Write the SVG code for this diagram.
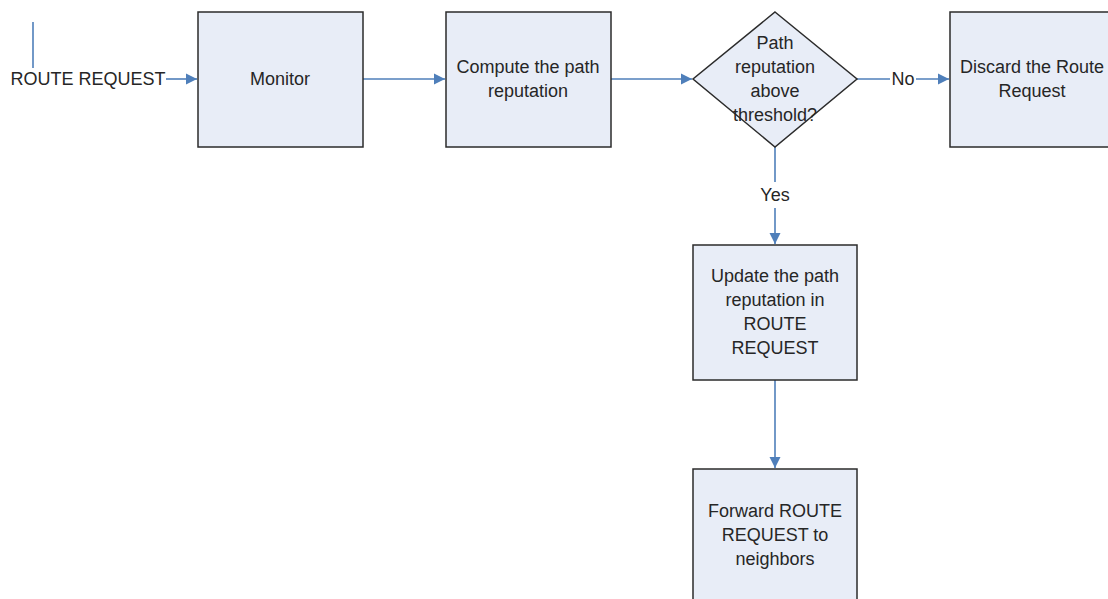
<svg xmlns="http://www.w3.org/2000/svg" width="1108" height="599" viewBox="0 0 1108 599">
<style>
.box{fill:#e8edf7;stroke:#2b2b2b;stroke-width:1.5}
.t{font-family:"Liberation Sans",Arial,sans-serif;font-size:18px;fill:#262626;text-anchor:middle}
.c{stroke:#4f7fba;stroke-width:1.6;fill:none}
</style>
<defs>
<marker id="ah" markerWidth="12" markerHeight="12" refX="11" refY="6" orient="auto" markerUnits="userSpaceOnUse">
<path d="M0,0.5 L11,6 L0,11.5 z" fill="#4f7fba"/>
</marker>
</defs>
<rect width="1108" height="599" fill="#ffffff"/>
<g id="connectors">
<line class="c" x1="33" y1="22" x2="33" y2="68"/>
<line class="c" x1="166" y1="79" x2="197" y2="79" marker-end="url(#ah)"/>
<line class="c" x1="363" y1="79" x2="445" y2="79" marker-end="url(#ah)"/>
<line class="c" x1="611" y1="79" x2="692" y2="79" marker-end="url(#ah)"/>
<line class="c" x1="857" y1="79" x2="890" y2="79"/>
<line class="c" x1="916" y1="79" x2="949" y2="79" marker-end="url(#ah)"/>
<line class="c" x1="775" y1="147" x2="775" y2="182"/>
<line class="c" x1="775" y1="208" x2="775" y2="244" marker-end="url(#ah)"/>
<line class="c" x1="775" y1="380" x2="775" y2="468" marker-end="url(#ah)"/>
<text class="t" x="903" y="85">No</text>
<text class="t" x="775" y="201">Yes</text>
</g>
<g id="start">
<text class="t" x="88" y="85">ROUTE REQUEST</text>
</g>
<g id="monitor">
<rect class="box" x="198" y="12" width="165" height="135"/>
<text class="t" x="280" y="85">Monitor</text>
</g>
<g id="compute">
<rect class="box" x="446" y="12" width="165" height="135"/>
<text class="t" x="528" y="73">Compute the path</text>
<text class="t" x="528" y="97">reputation</text>
</g>
<g id="decision">
<polygon class="box" points="775,12 857,79 775,147 693,79"/>
<text class="t" x="775" y="49">Path</text>
<text class="t" x="775" y="73">reputation</text>
<text class="t" x="775" y="97">above</text>
<text class="t" x="775" y="121">threshold?</text>
</g>
<g id="discard">
<rect class="box" x="950" y="12" width="165" height="135"/>
<text class="t" x="1032" y="73">Discard the Route</text>
<text class="t" x="1032" y="97">Request</text>
</g>
<g id="update">
<rect class="box" x="693" y="245" width="164" height="135"/>
<text class="t" x="775" y="282">Update the path</text>
<text class="t" x="775" y="306">reputation in</text>
<text class="t" x="775" y="330">ROUTE</text>
<text class="t" x="775" y="354">REQUEST</text>
</g>
<g id="forward">
<rect class="box" x="693" y="469" width="164" height="140"/>
<text class="t" x="775" y="517">Forward ROUTE</text>
<text class="t" x="775" y="541">REQUEST to</text>
<text class="t" x="775" y="565">neighbors</text>
</g>
</svg>
